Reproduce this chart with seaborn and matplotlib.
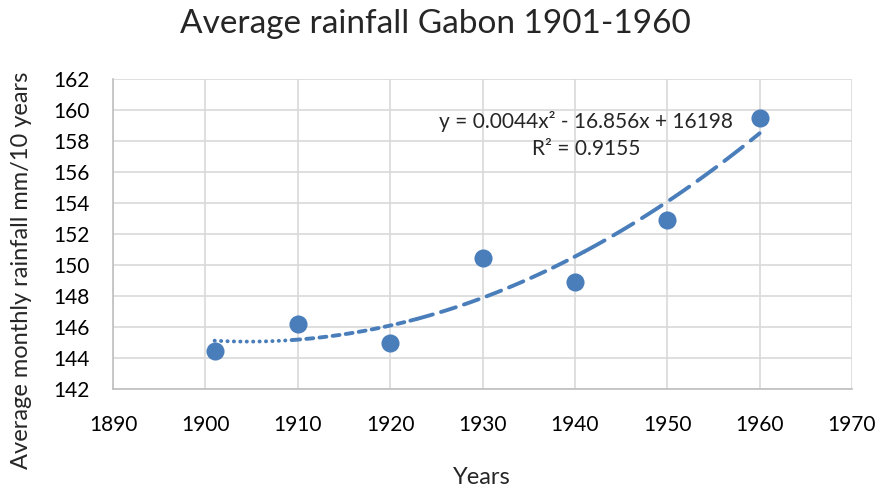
import numpy as np
import pandas as pd
import seaborn as sns
import matplotlib
matplotlib.use("Agg")
import matplotlib.pyplot as plt

years = [1901, 1910, 1920, 1930, 1940, 1950, 1960]
rainfall = [144.45, 146.2, 145.0, 150.45, 148.9, 152.9, 159.5]
x_ticks = [1890, 1900, 1910, 1920, 1930, 1940, 1950, 1960, 1970]
y_ticks = [142, 144, 146, 148, 150, 152, 154, 156, 158, 160, 162]
title = "Average rainfall Gabon 1901-1960"
eq_text = "y = 0.0044x² - 16.856x + 16198\nR² = 0.9155"

sns.set_theme(style="white")
plt.rcParams['font.family'] = ['Lato', 'DejaVu Sans']

color = "#4a7ebb"
df = pd.DataFrame({"Years": years, "Rainfall": rainfall})

fig = plt.figure(figsize=(8.88, 4.91), dpi=100)
ax = fig.add_axes([113/888, 1 - 389/491, (852-113)/888, (389-79)/491])

# trendline (2nd-order polynomial)
coef = np.polyfit(years, rainfall, 2)
pieces = [
    (1901, 1909.5, (0, (0.05, 1.6))),
    (1909.5, 1923, (0, (1.8, 1.6))),
    (1923, 1941, (0, (4.0, 2.2))),
    (1941, 1960, (0, (6.0, 2.6))),
]
for a, b, ls in pieces:
    xs = np.linspace(a, b, 100)
    ys = np.polyval(coef, xs)
    sns.lineplot(x=xs, y=ys, ax=ax, color=color, lw=2.8, linestyle=ls,
                 solid_capstyle="round", dash_capstyle="round", zorder=2)

sns.scatterplot(data=df, x="Years", y="Rainfall", ax=ax, color=color, s=170,
                edgecolor=color, linewidth=0, zorder=3)

ax.set_xlim(1890, 1970)
ax.set_ylim(142, 162)
ax.set_xticks(x_ticks)
ax.set_yticks(y_ticks)
ax.grid(True, color="#d9d9d9", lw=1.2)
ax.set_axisbelow(True)
for s in ["top", "right"]:
    ax.spines[s].set_visible(False)
for s in ["left", "bottom"]:
    ax.spines[s].set_color("#bfbfbf")
    ax.spines[s].set_linewidth(1.2)
ax.tick_params(axis="both", labelsize=15, colors="#000000", length=0)
ax.tick_params(axis="x", pad=19)
ax.tick_params(axis="y", pad=17)
ax.set_xlabel("")
ax.set_ylabel("")
fig.text(482/888, 1 - 478/491, "Years", fontsize=17, ha="center", va="center")
fig.text(22/888, 1 - 270/491, "Average monthly rainfall mm/10 years", fontsize=17,
         ha="center", va="center", rotation=90)

fig.text(435/888, 1 - 24/491, title, fontsize=24, ha="center", va="center")
ax.text(1941.2, 158.4, eq_text, fontsize=15, ha="center", va="center",
        linespacing=1.45)

fig.savefig("out.png", dpi=100)
